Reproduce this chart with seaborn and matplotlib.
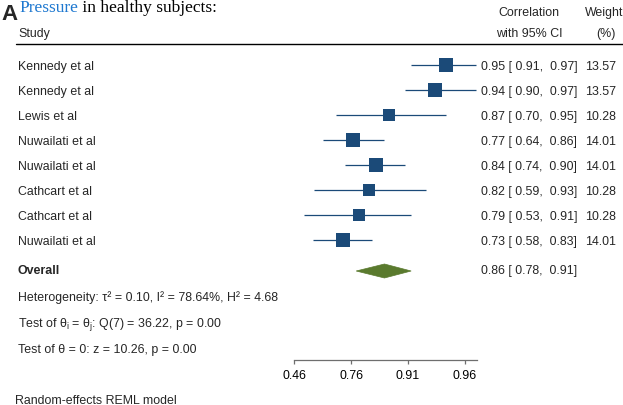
import numpy as np
import pandas as pd
import matplotlib
matplotlib.use("Agg")
import matplotlib.pyplot as plt
import seaborn as sns
from matplotlib.patches import Polygon
from matplotlib.lines import Line2D
from matplotlib.transforms import blended_transform_factory, offset_copy

# Study-level correlations (with 95% CI) and random-effects weights
studies = ["Kennedy et al", "Kennedy et al", "Lewis et al", "Nuwailati et al",
           "Nuwailati et al", "Cathcart et al", "Cathcart et al", "Nuwailati et al"]
corr = [0.95, 0.94, 0.87, 0.77, 0.84, 0.82, 0.79, 0.73]
ci_low = [0.91, 0.90, 0.70, 0.64, 0.74, 0.59, 0.53, 0.58]
ci_high = [0.97, 0.97, 0.95, 0.86, 0.90, 0.93, 0.91, 0.83]
weights = [13.57, 13.57, 10.28, 14.01, 14.01, 10.28, 10.28, 14.01]

# Pooled estimate
overall_r = 0.86
overall_low = 0.78
overall_high = 0.91

# Axis ticks on the Fisher-z scale and their back-transformed labels
tick_z = [0.5, 1.0, 1.5, 2.0]
tick_labels = ["0.46", "0.76", "0.91", "0.96"]

het_text = "Heterogeneity: \u03c4\u00b2 = 0.10, I\u00b2 = 78.64%, H\u00b2 = 4.68"
q_text = "Test of \u03b8$_\\mathregular{i}$ = \u03b8$_\\mathregular{j}$: Q(7) = 36.22, p = 0.00"
z_text = "Test of \u03b8 = 0: z = 10.26, p = 0.00"
model_text = "Random-effects REML model"

df = pd.DataFrame({"study": studies, "r": corr, "lo": ci_low, "hi": ci_high, "w": weights})
df["row"] = np.arange(len(df))
df["z"] = np.arctanh(df["r"])
df["z_lo"] = np.arctanh(df["lo"])
df["z_hi"] = np.arctanh(df["hi"])

sns.set_theme(style="white")
plt.rcParams["font.family"] = ["Liberation Sans", "DejaVu Sans"]
plt.rcParams["mathtext.fontset"] = "custom"
plt.rcParams["mathtext.rm"] = "Liberation Sans"

W, H = 623, 406
fig = plt.figure(figsize=(W / 100, H / 100), dpi=100)
fig.patch.set_facecolor("white")

# forest panel: x in Fisher-z units (114 px per unit), y in row units (25 px per row)
ax_left, ax_right, ax_top, ax_bottom = 294, 477, 45, 361
ax = fig.add_axes([ax_left / W, 1 - ax_bottom / H, (ax_right - ax_left) / W, (ax_bottom - ax_top) / H])
ax.set_xlim(0.5, 0.5 + (ax_right - ax_left) / 114)
ax.set_ylim((ax_bottom - 66) / 25, (ax_top - 66) / 25)
ax.patch.set_alpha(0)

blue = "#1b4a78"
green = "#5a7a2e"
fs = 8.9

ax.hlines(df["row"], df["z_lo"], df["z_hi"], color=blue, lw=0.9, zorder=2, clip_on=False)
sns.scatterplot(data=df, x="z", y="row", size="w", sizes=(0, 14.01 * 7), size_norm=(0, 14.01),
                marker="s", color=blue, linewidth=0, legend=False, ax=ax, zorder=3, clip_on=False)

# pooled diamond
y_ov = (272 - 66) / 25
half_h = 7 / 25
zo, zl, zh = np.arctanh(overall_r), np.arctanh(overall_low), np.arctanh(overall_high)
ax.add_patch(Polygon([(zl, y_ov), (zo, y_ov - half_h), (zh, y_ov), (zo, y_ov + half_h)],
                     closed=True, facecolor=green, edgecolor=green, lw=0.5, zorder=3, clip_on=False))

# axis styling
for side in ["top", "left", "right"]:
    ax.spines[side].set_visible(False)
ax.spines["bottom"].set_color("#6e6e6e")
ax.spines["bottom"].set_linewidth(0.9)
ax.set_xticks(tick_z, tick_labels)
ax.set_yticks([])
ax.set_xlabel("")
ax.set_ylabel("")
ax.tick_params(axis="x", direction="out", length=3, width=0.9, color="#6e6e6e",
               labelsize=fs, labelcolor="black", pad=3.5, bottom=True)

# row labels share the data y of the marks
tr = blended_transform_factory(fig.transFigure, ax.transData)
tr_base = offset_copy(tr, fig=fig, x=0, y=-4.4, units="dots")
for _, row in df.iterrows():
    ax.text(18 / W, row["row"], row["study"], transform=tr_base, ha="left", va="baseline",
            fontsize=fs, clip_on=False)
    ax.text(481 / W, row["row"], f"{row['r']:.2f} [ {row['lo']:.2f},  {row['hi']:.2f}]",
            transform=tr_base, ha="left", va="baseline", fontsize=fs, clip_on=False)
    ax.text(616 / W, row["row"], f"{row['w']:.2f}", transform=tr_base, ha="right",
            va="baseline", fontsize=fs, clip_on=False)

ax.text(18 / W, y_ov - 2 / 25, "Overall", transform=tr_base, ha="left", va="baseline",
        fontsize=fs, fontweight="bold", clip_on=False)
ax.text(481 / W, y_ov - 2 / 25, f"{overall_r:.2f} [ {overall_low:.2f},  {overall_high:.2f}]",
        transform=tr_base, ha="left", va="baseline", fontsize=fs, clip_on=False)


def ftext(px, py, s, **kw):
    """Place text by pixel position (py = baseline from top)."""
    return fig.text(px / W, 1 - py / H, s, va="baseline", fontsize=kw.pop("fontsize", fs), **kw)


# column headers
ftext(18, 37.4, "Study")
ftext(529, 16.4, "Correlation", ha="center")
ftext(529, 37.4, "with 95% CI", ha="center")
ftext(604, 16.4, "Weight", ha="center")
ftext(606, 37.4, "(%)", ha="center")
fig.add_artist(Line2D([16 / W, 1.0], [1 - 45 / H, 1 - 45 / H], transform=fig.transFigure,
                      color="black", lw=1.0))

# heterogeneity statistics
ftext(18, 301.4, het_text)
ftext(18, 327.4, q_text)
ftext(18, 353.4, z_text)
ftext(15, 404.5, model_text)

# panel title
ftext(1, 20.5, "A", fontsize=16, fontweight="bold")
t1 = ftext(19, 12.5, "Pressure", fontsize=12.5, family="Liberation Serif", color="#1e78d0")
plt.annotate(" in healthy subjects:", xy=(1, 0), xycoords=t1, va="bottom", ha="left",
             fontsize=12.5, family="Liberation Serif", color="black", annotation_clip=False)

fig.savefig("out.png", dpi=100, facecolor="white")
